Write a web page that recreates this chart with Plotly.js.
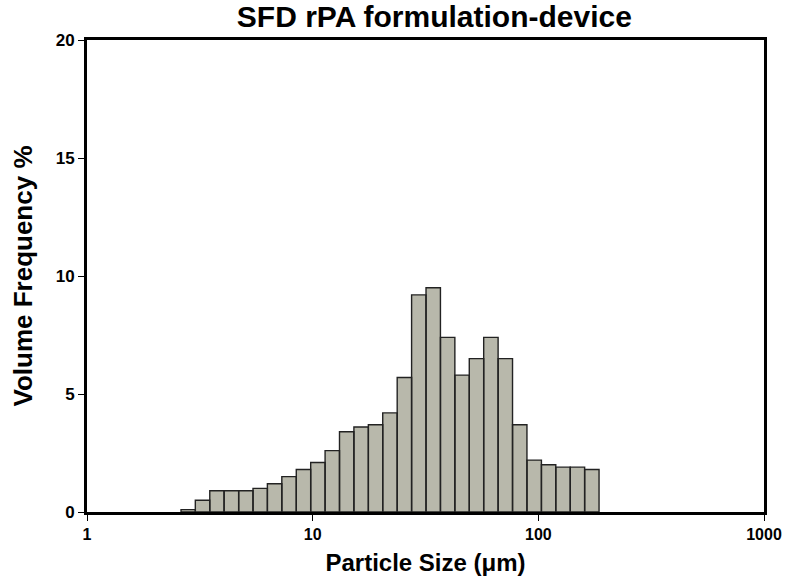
<!DOCTYPE html>
<html>
<head>
<meta charset="utf-8">
<script src="https://cdn.plot.ly/plotly-3.0.1.min.js"></script>
<style>
  html, body { margin: 0; padding: 0; background: #fff; }
  #chart { width: 800px; height: 582px; }
</style>
</head>
<body>
<div id="chart"></div>
<script>
// bin edges (um)
let binEdges = [2.61, 3.02, 3.50, 4.05, 4.70, 5.44, 6.30, 7.30, 8.46, 9.80,
    11.35, 13.15, 15.23, 17.65, 20.44, 23.69, 27.44, 31.79, 36.83, 42.67,
    49.43, 57.26, 66.34, 76.85, 89.03, 103.2, 119.5, 138.5, 160.4, 185.8];

// volume frequency % for each bin
let volFreq = [0.1, 0.5, 0.9, 0.9, 0.9, 1.0, 1.2, 1.5, 1.8, 2.1,
    2.6, 3.4, 3.6, 3.7, 4.2, 5.7, 9.2, 9.5, 7.4, 5.8,
    6.5, 7.4, 6.5, 3.7, 2.2, 2.0, 1.9, 1.9, 1.8];

let xTicks = [1, 10, 100, 1000];
let xTickText = ["1", "10", "100", "1000"];
let yTicks = [0, 5, 10, 15, 20];

// one closed outline per bar, separated by gaps
let bx = [];
let by = [];
for (let i = 0; i < volFreq.length; i++) {
    let a = binEdges[i], b = binEdges[i + 1], h = volFreq[i];
    bx.push(a, a, b, b, a, null);
    by.push(0, h, h, 0, 0, null);
}

let data = [
    {
        type: "scatter",
        mode: "lines",
        x: bx,
        y: by,
        fill: "toself",
        fillcolor: "#b8b8ab",
        line: { color: "#222", width: 1.4 },
        connectgaps: false,
        hoverinfo: "skip",
        showlegend: false
    }
];

let boldFont = "Liberation Sans, Arial, sans-serif";

let layout = {
    width: 800,
    height: 582,
    margin: { l: 87, r: 36, t: 40, b: 70 },
    paper_bgcolor: "#fff",
    plot_bgcolor: "#fff",
    title: {
        text: "<b>SFD rPA formulation-device</b>",
        font: { family: boldFont, size: 30, color: "#000" },
        x: 0.543,
        xanchor: "center",
        yref: "container",
        y: 0.99,
        yanchor: "top",
        pad: { t: 0, b: 0 }
    },
    xaxis: {
        type: "log",
        range: [0, 3],
        tickvals: xTicks,
        ticktext: xTickText,
        ticks: "outside",
        ticklen: 6,
        tickwidth: 1,
        tickcolor: "#000",
        showline: true,
        linewidth: 3,
        linecolor: "#000",
        mirror: true,
        showgrid: false,
        zeroline: false,
        tickfont: { family: boldFont, size: 16, weight: "bold", color: "#000" },
        title: {
            text: "<b>Particle Size (μm)</b>",
            font: { family: boldFont, size: 24, color: "#000" },
            standoff: 12
        }
    },
    yaxis: {
        range: [0, 20],
        tickvals: yTicks,
        ticks: "outside",
        ticklen: 6,
        tickwidth: 1,
        tickcolor: "#000",
        showline: true,
        linewidth: 3,
        linecolor: "#000",
        mirror: true,
        showgrid: false,
        zeroline: false,
        tickfont: { family: boldFont, size: 17, weight: "bold", color: "#000" },
        title: {
            text: "<b>Volume Frequency %</b>",
            font: { family: boldFont, size: 26, color: "#000" },
            standoff: 16
        }
    }
};

Plotly.newPlot("chart", data, layout, { displayModeBar: false });
</script>
</body>
</html>
